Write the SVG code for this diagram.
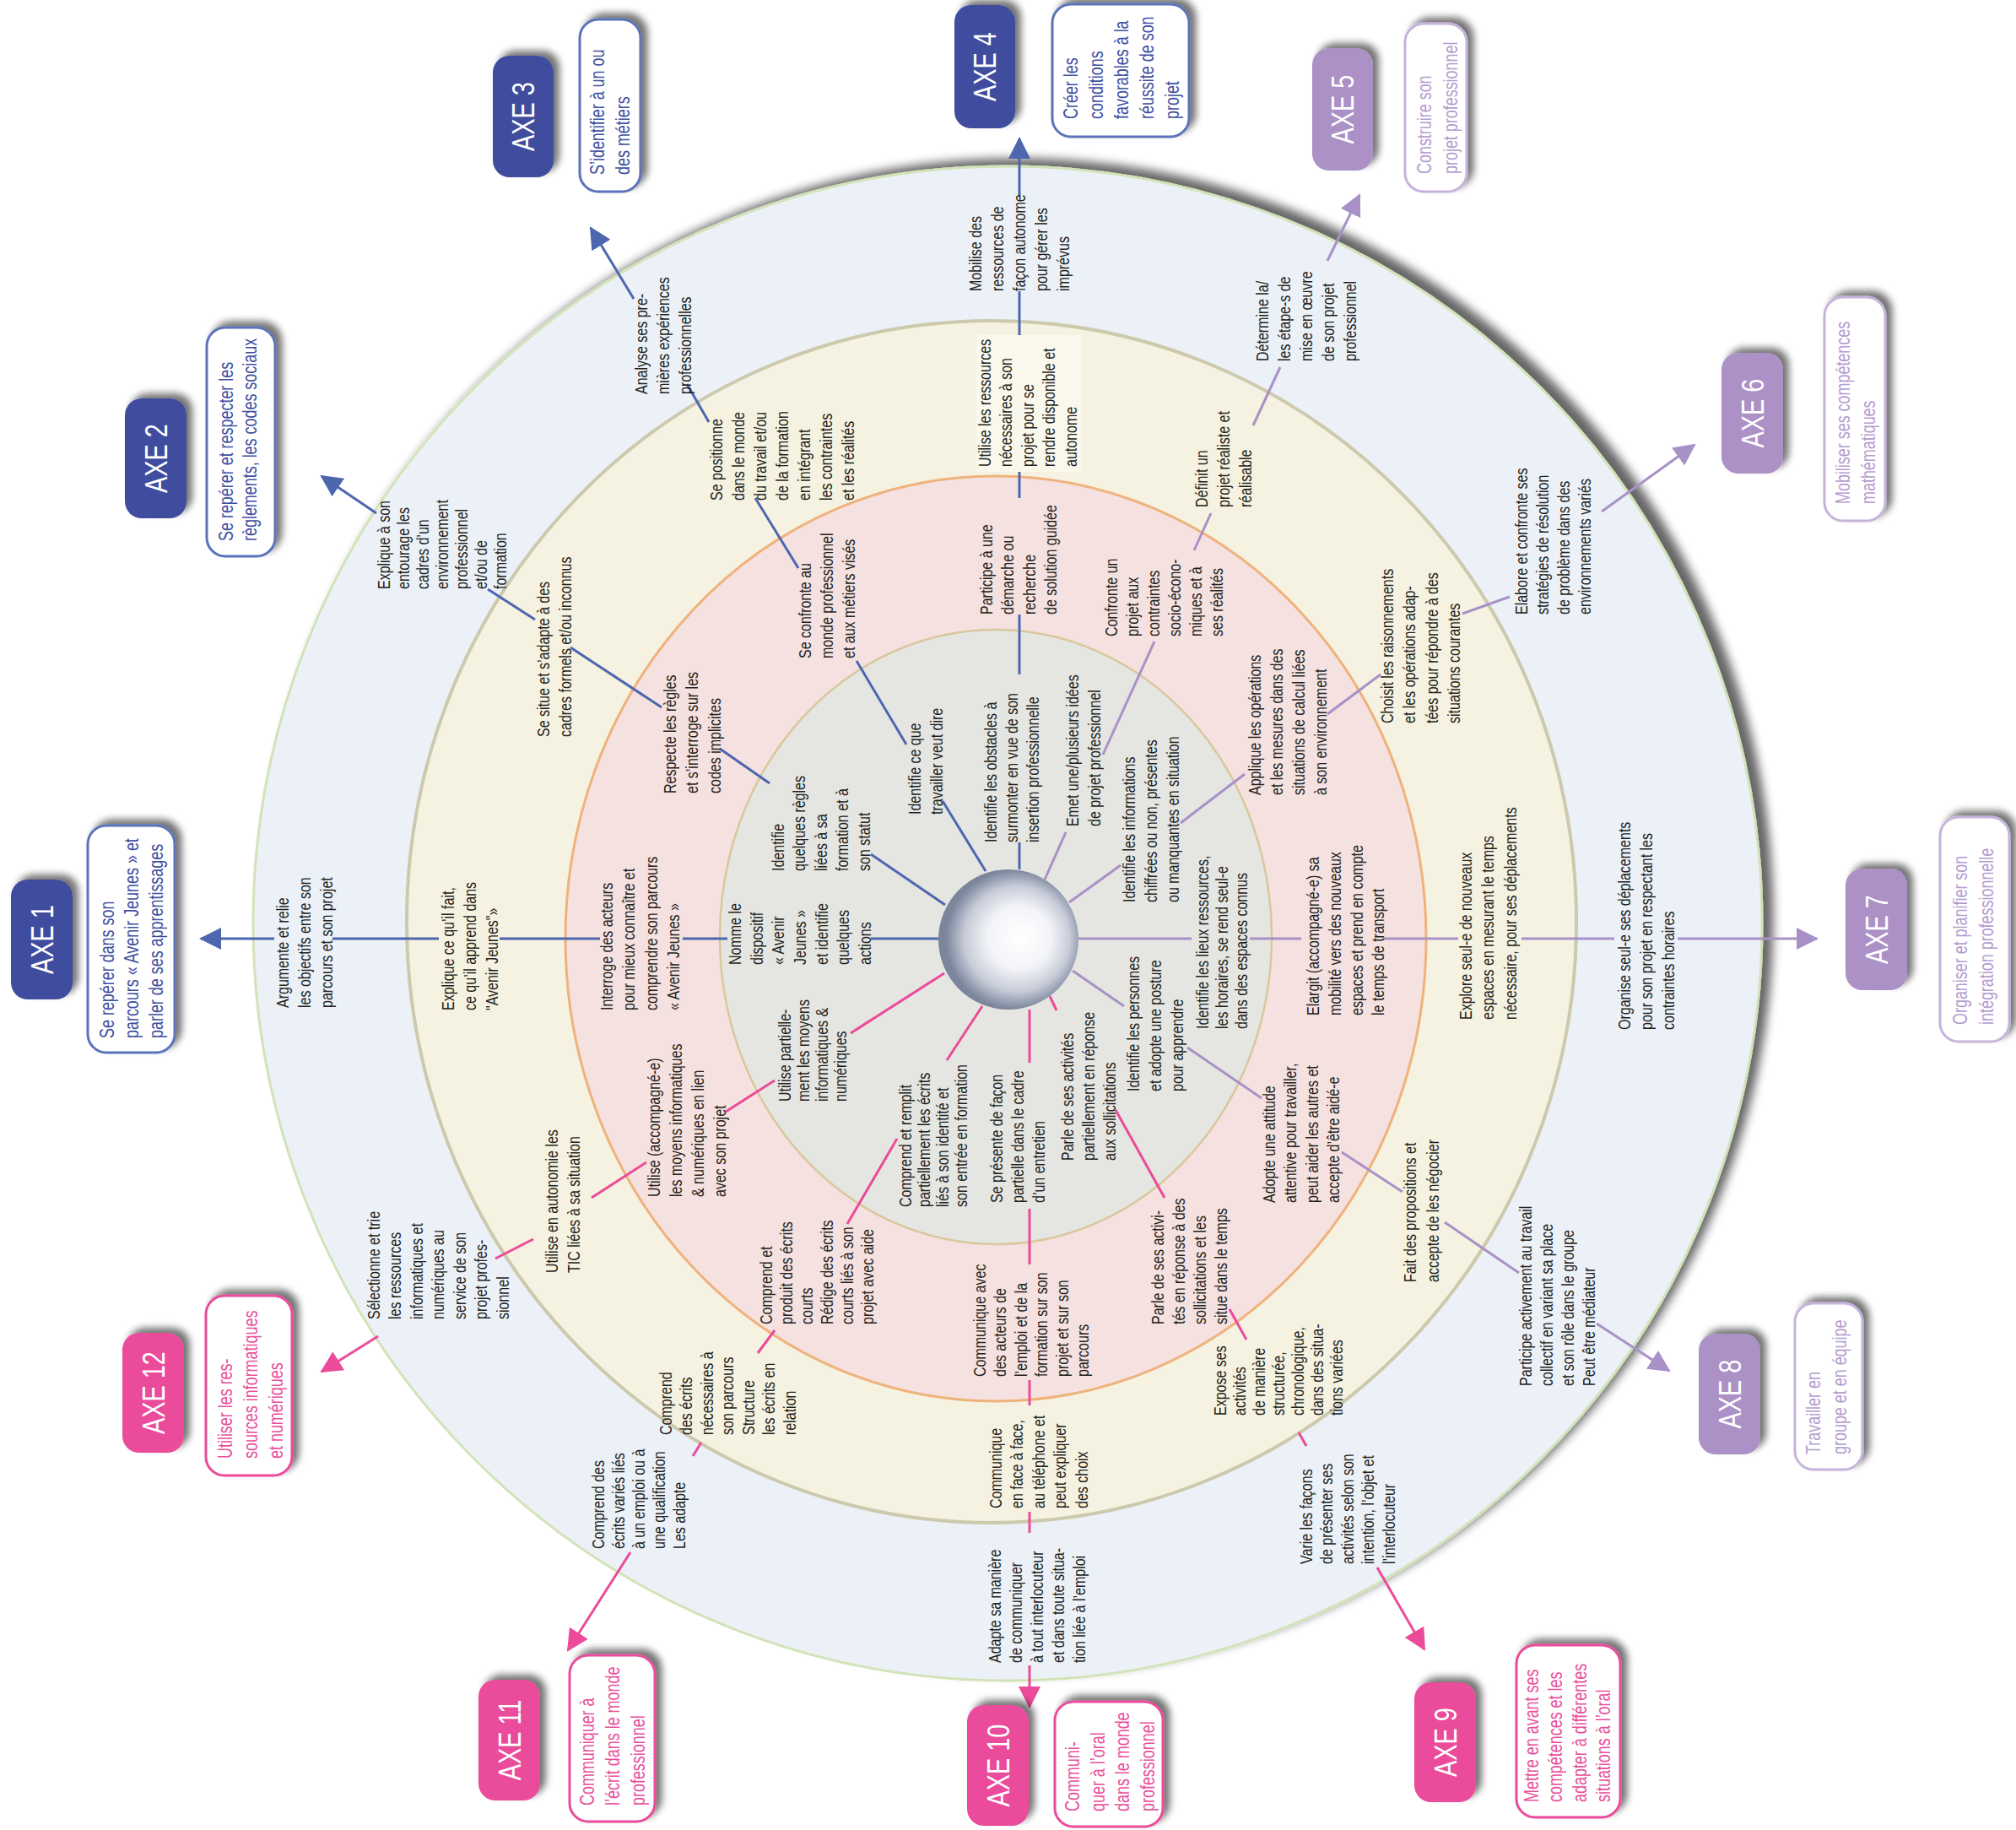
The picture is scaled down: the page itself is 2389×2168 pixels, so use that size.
<svg xmlns="http://www.w3.org/2000/svg" width="2389" height="2168" viewBox="0 0 2389 2168">
<defs>
<style>
.t{font-family:"Liberation Sans",Arial,sans-serif;font-size:20px;fill:#231f20}
.bt{font-family:"Liberation Sans",Arial,sans-serif;font-size:23px}
.ax{font-family:"Liberation Sans",Arial,sans-serif;font-size:37px;fill:#ffffff;text-anchor:middle}
.cb{stroke:#4d66ae;stroke-width:3;fill:none}
.cp{stroke:#a891c7;stroke-width:3;fill:none}
.ck{stroke:#ec4a9a;stroke-width:3;fill:none}
.bb{fill:#414e9e}.bp{fill:#ab91c5}.bk{fill:#ea4b9a}
.tb{fill:#ffffff;stroke:#5b73ba;stroke-width:3}
.tp{fill:#ffffff;stroke:#c6b3dc;stroke-width:3}
.tk{fill:#ffffff;stroke:#ea4b9a;stroke-width:3}
.xb{fill:#3f4f9f}.xp{fill:#b39ccf}.xk{fill:#e8509c}
</style>
<filter id="sh" x="-30%" y="-30%" width="160%" height="160%">
<feGaussianBlur in="SourceAlpha" stdDeviation="4"/>
<feOffset dx="7" dy="-6" result="o"/>
<feComponentTransfer><feFuncA type="linear" slope="0.55"/></feComponentTransfer>
<feMerge><feMergeNode/><feMergeNode in="SourceGraphic"/></feMerge>
</filter>
<filter id="shc" x="-10%" y="-10%" width="120%" height="120%">
<feGaussianBlur in="SourceAlpha" stdDeviation="6"/>
<feOffset dx="12" dy="-8"/>
<feComponentTransfer><feFuncA type="linear" slope="0.6"/></feComponentTransfer>
<feMerge><feMergeNode/><feMergeNode in="SourceGraphic"/></feMerge>
</filter>
<radialGradient id="sg" cx="0.55" cy="0.5" r="0.5" fx="0.6" fy="0.48">
<stop offset="0" stop-color="#ffffff"/>
<stop offset="0.45" stop-color="#f3f4f8"/>
<stop offset="0.75" stop-color="#c8ccd8"/>
<stop offset="0.9" stop-color="#98a1b4"/>
<stop offset="1" stop-color="#7b859b"/>
</radialGradient>
<marker id="mb" viewBox="0 0 26 26" markerWidth="26" markerHeight="26" refX="24" refY="13" orient="auto" markerUnits="userSpaceOnUse"><path d="M0,0 L26,13 L0,26 z" fill="#4d66ae"/></marker>
<marker id="mp" viewBox="0 0 26 26" markerWidth="26" markerHeight="26" refX="24" refY="13" orient="auto" markerUnits="userSpaceOnUse"><path d="M0,0 L26,13 L0,26 z" fill="#a891c7"/></marker>
<marker id="mk" viewBox="0 0 26 26" markerWidth="26" markerHeight="26" refX="24" refY="13" orient="auto" markerUnits="userSpaceOnUse"><path d="M0,0 L26,13 L0,26 z" fill="#ec4a9a"/></marker>
</defs>
<rect x="0" y="0" width="2389" height="2168" fill="#ffffff"/>

<g id="rings">
<ellipse cx="1194" cy="1094" rx="894" ry="897" fill="#ecf1f8" stroke="#d3e3b8" stroke-width="3" filter="url(#shc)"/>
<ellipse cx="1175" cy="1092" rx="693" ry="712" fill="#f5f2e1" stroke="#cdc9ad" stroke-width="4"/>
<ellipse cx="1180" cy="1112" rx="510" ry="548" fill="#f5e1df" stroke="#efb27c" stroke-width="3"/>
<ellipse cx="1180" cy="1110" rx="327" ry="364" fill="#e5e6e2" stroke="#d9c79d" stroke-width="2.5"/>
<rect x="1157" y="397" width="124" height="162" fill="#faf8ec"/>
</g>

<g id="connectors">
<!-- AXE 1 -->
<line class="cb" x1="1112" y1="1112" x2="1032" y2="1112"/>
<line class="cb" x1="862" y1="1112" x2="809" y2="1112"/>
<line class="cb" x1="711" y1="1112" x2="592" y2="1112"/>
<line class="cb" x1="520" y1="1112" x2="394" y2="1112"/>
<line class="cb" x1="325" y1="1112" x2="238" y2="1112" marker-end="url(#mb)"/>
<!-- AXE 2 -->
<line class="cb" x1="1120" y1="1072" x2="1032" y2="1012"/>
<line class="cb" x1="912" y1="928" x2="853" y2="887"/>
<line class="cb" x1="784" y1="838" x2="676" y2="767"/>
<line class="cb" x1="634" y1="734" x2="578" y2="698"/>
<line class="cb" x1="446" y1="608" x2="381" y2="564" marker-end="url(#mb)"/>
<!-- AXE 3 -->
<line class="cb" x1="1168" y1="1032" x2="1117" y2="949"/>
<line class="cb" x1="1074" y1="882" x2="1015" y2="783"/>
<line class="cb" x1="946" y1="673" x2="895" y2="590"/>
<line class="cb" x1="840" y1="500" x2="814" y2="455"/>
<line class="cb" x1="751" y1="354" x2="700" y2="270" marker-end="url(#mb)"/>
<!-- AXE 4 -->
<line class="cb" x1="1208" y1="1030" x2="1208" y2="998"/>
<line class="cb" x1="1208" y1="799" x2="1208" y2="728"/>
<line class="cb" x1="1208" y1="590" x2="1208" y2="559"/>
<line class="cb" x1="1208" y1="397" x2="1208" y2="345"/>
<line class="cb" x1="1208" y1="231" x2="1208" y2="164" marker-end="url(#mb)"/>
<!-- AXE 5 -->
<line class="cp" x1="1238" y1="1042" x2="1263" y2="986"/>
<line class="cp" x1="1307" y1="894" x2="1368" y2="760"/>
<line class="cp" x1="1415" y1="652" x2="1435" y2="608"/>
<line class="cp" x1="1485" y1="504" x2="1517" y2="435"/>
<line class="cp" x1="1573" y1="309" x2="1611" y2="231" marker-end="url(#mp)"/>
<!-- AXE 6 -->
<line class="cp" x1="1267" y1="1069" x2="1328" y2="1025"/>
<line class="cp" x1="1399" y1="975" x2="1475" y2="917"/>
<line class="cp" x1="1573" y1="846" x2="1636" y2="799"/>
<line class="cp" x1="1733" y1="727" x2="1789" y2="707"/>
<line class="cp" x1="1898" y1="606" x2="2008" y2="527" marker-end="url(#mp)"/>
<!-- AXE 7 -->
<line class="cp" x1="1278" y1="1112" x2="1412" y2="1112"/>
<line class="cp" x1="1481" y1="1112" x2="1542" y2="1112"/>
<line class="cp" x1="1640" y1="1112" x2="1728" y2="1112"/>
<line class="cp" x1="1803" y1="1112" x2="1913" y2="1112"/>
<line class="cp" x1="1988" y1="1112" x2="2153" y2="1112" marker-end="url(#mp)"/>
<!-- AXE 8 -->
<line class="cp" x1="1271" y1="1150" x2="1332" y2="1192"/>
<line class="cp" x1="1407" y1="1241" x2="1495" y2="1301"/>
<line class="cp" x1="1590" y1="1365" x2="1662" y2="1412"/>
<line class="cp" x1="1712" y1="1448" x2="1800" y2="1508"/>
<line class="cp" x1="1892" y1="1568" x2="1978" y2="1624" marker-end="url(#mp)"/>
<!-- AXE 9 -->
<line class="ck" x1="1244" y1="1180" x2="1252" y2="1197"/>
<line class="ck" x1="1322" y1="1315" x2="1380" y2="1419"/>
<line class="ck" x1="1457" y1="1551" x2="1477" y2="1587"/>
<line class="ck" x1="1539" y1="1697" x2="1548" y2="1713"/>
<line class="ck" x1="1632" y1="1857" x2="1688" y2="1954" marker-end="url(#mk)"/>
<!-- AXE 10 -->
<line class="ck" x1="1220" y1="1196" x2="1220" y2="1259"/>
<line class="ck" x1="1220" y1="1432" x2="1220" y2="1498"/>
<line class="ck" x1="1220" y1="1635" x2="1220" y2="1665"/>
<line class="ck" x1="1220" y1="1791" x2="1220" y2="1816"/>
<line class="ck" x1="1220" y1="1973" x2="1220" y2="2022" marker-end="url(#mk)"/>
<!-- AXE 11 -->
<line class="ck" x1="1164" y1="1192" x2="1122" y2="1256"/>
<line class="ck" x1="1063" y1="1349" x2="1004" y2="1450"/>
<line class="ck" x1="918" y1="1576" x2="898" y2="1603"/>
<line class="ck" x1="831" y1="1709" x2="821" y2="1725"/>
<line class="ck" x1="747" y1="1839" x2="673" y2="1955" marker-end="url(#mk)"/>
<!-- AXE 12 -->
<line class="ck" x1="1119" y1="1153" x2="1008" y2="1224"/>
<line class="ck" x1="918" y1="1280" x2="860" y2="1317"/>
<line class="ck" x1="766" y1="1377" x2="701" y2="1419"/>
<line class="ck" x1="632" y1="1468" x2="587" y2="1491"/>
<line class="ck" x1="448" y1="1583" x2="381" y2="1625" marker-end="url(#mk)"/>
</g>

<g id="center"><circle cx="1195" cy="1113" r="83" fill="url(#sg)"/></g>

<!-- Gray ring nodes -->
<g id="g1"><text class="t" transform="translate(878,1143) rotate(-90) scale(0.8,1)"><tspan x="0" y="0">Nomme le</tspan><tspan x="0" y="25.7">dispositif</tspan><tspan x="0" y="51.4">« Avenir</tspan><tspan x="0" y="77.1">Jeunes »</tspan><tspan x="0" y="102.8">et identifie</tspan><tspan x="0" y="128.5">quelques</tspan><tspan x="0" y="154.2">actions</tspan></text></g>
<g id="g2"><text class="t" transform="translate(929,1032) rotate(-90) scale(0.8,1)"><tspan x="0" y="0">Identifie</tspan><tspan x="0" y="25.5">quelques règles</tspan><tspan x="0" y="51">liées à sa</tspan><tspan x="0" y="76.5">formation et à</tspan><tspan x="0" y="102">son statut</tspan></text></g>
<g id="g3"><text class="t" transform="translate(1091,965) rotate(-90) scale(0.8,1)"><tspan x="0" y="0">Identifie ce que</tspan><tspan x="0" y="26">travailler veut dire</tspan></text></g>
<g id="g4"><text class="t" transform="translate(1181,998) rotate(-90) scale(0.8,1)"><tspan x="0" y="0">Identifie les obstacles à</tspan><tspan x="0" y="25">surmonter en vue de son</tspan><tspan x="0" y="50">insertion professionnelle</tspan></text></g>
<g id="g5"><text class="t" transform="translate(1278,979) rotate(-90) scale(0.8,1)"><tspan x="0" y="0">Emet une/plusieurs idées</tspan><tspan x="0" y="26">de projet professionnel</tspan></text></g>
<g id="g6"><text class="t" transform="translate(1345,1069) rotate(-90) scale(0.8,1)"><tspan x="0" y="0">Identifie les informations</tspan><tspan x="0" y="26">chiffrées ou non, présentes</tspan><tspan x="0" y="52">ou manquantes en situation</tspan></text></g>
<g id="g7"><text class="t" transform="translate(1432,1219) rotate(-90) scale(0.8,1)"><tspan x="0" y="0">Identifie les lieux ressources,</tspan><tspan x="0" y="23">les horaires, se rend seul-e</tspan><tspan x="0" y="46">dans des espaces connus</tspan></text></g>
<g id="g8"><text class="t" transform="translate(1350,1293) rotate(-90) scale(0.8,1)"><tspan x="0" y="0">Identifie les personnes</tspan><tspan x="0" y="26">et adopte une posture</tspan><tspan x="0" y="52">pour apprendre</tspan></text></g>
<g id="g9"><text class="t" transform="translate(1272,1375) rotate(-90) scale(0.8,1)"><tspan x="0" y="0">Parle de ses activités</tspan><tspan x="0" y="25">partiellement en réponse</tspan><tspan x="0" y="50">aux sollicitations</tspan></text></g>
<g id="g10"><text class="t" transform="translate(1188,1425) rotate(-90) scale(0.8,1)"><tspan x="0" y="0">Se présente de façon</tspan><tspan x="0" y="25">partielle dans le cadre</tspan><tspan x="0" y="50">d’un entretien</tspan></text></g>
<g id="g11"><text class="t" transform="translate(1080,1430) rotate(-90) scale(0.8,1)"><tspan x="0" y="0">Comprend et remplit</tspan><tspan x="0" y="22">partiellement les écrits</tspan><tspan x="0" y="44">liés à son identité et</tspan><tspan x="0" y="66">son entrée en formation</tspan></text></g>
<g id="g12"><text class="t" transform="translate(937,1305) rotate(-90) scale(0.8,1)"><tspan x="0" y="0">Utilise partielle-</tspan><tspan x="0" y="22">ment les moyens</tspan><tspan x="0" y="44">informatiques &amp;</tspan><tspan x="0" y="66">numériques</tspan></text></g>

<!-- Pink ring nodes -->
<g id="p1"><text class="t" transform="translate(726,1197) rotate(-90) scale(0.8,1)"><tspan x="0" y="0">Interroge des acteurs</tspan><tspan x="0" y="26.5">pour mieux connaître et</tspan><tspan x="0" y="53">comprendre son parcours</tspan><tspan x="0" y="79.5">« Avenir Jeunes »</tspan></text></g>
<g id="p2"><text class="t" transform="translate(801,940) rotate(-90) scale(0.8,1)"><tspan x="0" y="0">Respecte les règles</tspan><tspan x="0" y="26.5">et s’interroge sur les</tspan><tspan x="0" y="53">codes implicites</tspan></text></g>
<g id="p3"><text class="t" transform="translate(961,780) rotate(-90) scale(0.8,1)"><tspan x="0" y="0">Se confronte au</tspan><tspan x="0" y="26">monde professionnel</tspan><tspan x="0" y="52">et aux métiers visés</tspan></text></g>
<g id="p4"><text class="t" transform="translate(1176,728) rotate(-90) scale(0.8,1)"><tspan x="0" y="0">Participe à une</tspan><tspan x="0" y="25.5">démarche ou</tspan><tspan x="0" y="51">recherche</tspan><tspan x="0" y="76.5">de solution guidée</tspan></text></g>
<g id="p5"><text class="t" transform="translate(1324,754) rotate(-90) scale(0.8,1)"><tspan x="0" y="0">Confronte un</tspan><tspan x="0" y="25">projet aux</tspan><tspan x="0" y="50">contraintes</tspan><tspan x="0" y="75">socio-écono-</tspan><tspan x="0" y="100">miques et à</tspan><tspan x="0" y="125">ses réalités</tspan></text></g>
<g id="p6"><text class="t" transform="translate(1494,942) rotate(-90) scale(0.8,1)"><tspan x="0" y="0">Applique les opérations</tspan><tspan x="0" y="26">et les mesures dans des</tspan><tspan x="0" y="52">situations de calcul liées</tspan><tspan x="0" y="78">à son environnement</tspan></text></g>
<g id="p7"><text class="t" transform="translate(1563,1203) rotate(-90) scale(0.8,1)"><tspan x="0" y="0">Elargit (accompagné-e) sa</tspan><tspan x="0" y="25.8">mobilité vers des nouveaux</tspan><tspan x="0" y="51.6">espaces  et prend en compte</tspan><tspan x="0" y="77.4">le temps de transport</tspan></text></g>
<g id="p8"><text class="t" transform="translate(1511,1425) rotate(-90) scale(0.8,1)"><tspan x="0" y="0">Adopte une attitude</tspan><tspan x="0" y="25.5">attentive  pour  travailler,</tspan><tspan x="0" y="51">peut aider les autres et</tspan><tspan x="0" y="76.5">accepte d’être aidé-e</tspan></text></g>
<g id="p9"><text class="t" transform="translate(1379,1569) rotate(-90) scale(0.8,1)"><tspan x="0" y="0">Parle de ses activi-</tspan><tspan x="0" y="25">tés en réponse à des</tspan><tspan x="0" y="50">sollicitations et les</tspan><tspan x="0" y="75">situe dans le temps</tspan></text></g>
<g id="p10"><text class="t" transform="translate(1168,1631) rotate(-90) scale(0.8,1)"><tspan x="0" y="0">Communique avec</tspan><tspan x="0" y="24.5">des acteurs de</tspan><tspan x="0" y="49">l’emploi et de la</tspan><tspan x="0" y="73.5">formation sur son</tspan><tspan x="0" y="98">projet et sur son</tspan><tspan x="0" y="122.5">parcours</tspan></text></g>
<g id="p11"><text class="t" transform="translate(915,1569) rotate(-90) scale(0.8,1)"><tspan x="0" y="0">Comprend et</tspan><tspan x="0" y="24">produit des écrits</tspan><tspan x="0" y="48">courts</tspan><tspan x="0" y="72">Rédige des écrits</tspan><tspan x="0" y="96">courts liés à son</tspan><tspan x="0" y="120">projet avec aide</tspan></text></g>
<g id="p12"><text class="t" transform="translate(782,1418) rotate(-90) scale(0.8,1)"><tspan x="0" y="0">Utilise (accompagné-e)</tspan><tspan x="0" y="26">les moyens informatiques</tspan><tspan x="0" y="52">&amp; numériques en lien</tspan><tspan x="0" y="78">avec son projet</tspan></text></g>

<!-- Cream ring nodes -->
<g id="c1"><text class="t" transform="translate(538,1197) rotate(-90) scale(0.8,1)"><tspan x="0" y="0">Explique ce qu’il fait,</tspan><tspan x="0" y="26">ce qu’il apprend dans</tspan><tspan x="0" y="52">"Avenir Jeunes"»</tspan></text></g>
<g id="c2"><text class="t" transform="translate(651,873) rotate(-90) scale(0.8,1)"><tspan x="0" y="0">Se situe et s’adapte à des</tspan><tspan x="0" y="26">cadres formels et/ou inconnus</tspan></text></g>
<g id="c3"><text class="t" transform="translate(856,593) rotate(-90) scale(0.8,1)"><tspan x="0" y="0">Se positionne</tspan><tspan x="0" y="26">dans le monde</tspan><tspan x="0" y="52">du travail et/ou</tspan><tspan x="0" y="78">de la formation</tspan><tspan x="0" y="104">en intégrant</tspan><tspan x="0" y="130">les contraintes</tspan><tspan x="0" y="156">et les réalités</tspan></text></g>
<g id="c4"><text class="t" transform="translate(1174,553) rotate(-90) scale(0.8,1)"><tspan x="0" y="0">Utilise les ressources</tspan><tspan x="0" y="25.5">nécessaires à son</tspan><tspan x="0" y="51">projet pour se</tspan><tspan x="0" y="76.5">rendre disponible et</tspan><tspan x="0" y="102">autonome</tspan></text></g>
<g id="c5"><text class="t" transform="translate(1431,601) rotate(-90) scale(0.8,1)"><tspan x="0" y="0">Définit un</tspan><tspan x="0" y="26">projet réaliste et</tspan><tspan x="0" y="52">réalisable</tspan></text></g>
<g id="c6"><text class="t" transform="translate(1651,857) rotate(-90) scale(0.8,1)"><tspan x="0" y="0">Choisit les raisonnements</tspan><tspan x="0" y="26.5">et les opérations adap-</tspan><tspan x="0" y="53">tées pour répondre à des</tspan><tspan x="0" y="79.5">situations courantes</tspan></text></g>
<g id="c7"><text class="t" transform="translate(1744,1208) rotate(-90) scale(0.8,1)"><tspan x="0" y="0">Explore seul-e de nouveaux</tspan><tspan x="0" y="26.5">espaces en mesurant le temps</tspan><tspan x="0" y="53">nécessaire, pour ses déplacements</tspan></text></g>
<g id="c8"><text class="t" transform="translate(1678,1519) rotate(-90) scale(0.8,1)"><tspan x="0" y="0">Fait des propositions et</tspan><tspan x="0" y="27">accepte de les négocier</tspan></text></g>
<g id="c9"><text class="t" transform="translate(1453,1677) rotate(-90) scale(0.8,1)"><tspan x="0" y="0">Expose ses</tspan><tspan x="0" y="23">activités</tspan><tspan x="0" y="46">de manière</tspan><tspan x="0" y="69">structurée,</tspan><tspan x="0" y="92">chronologique,</tspan><tspan x="0" y="115">dans des situa-</tspan><tspan x="0" y="138">tions variées</tspan></text></g>
<g id="c10"><text class="t" transform="translate(1187,1787) rotate(-90) scale(0.8,1)"><tspan x="0" y="0">Communique</tspan><tspan x="0" y="25.5">en face  à face,</tspan><tspan x="0" y="51">au téléphone et</tspan><tspan x="0" y="76.5">peut expliquer</tspan><tspan x="0" y="102">des choix</tspan></text></g>
<g id="c11"><text class="t" transform="translate(796,1700) rotate(-90) scale(0.8,1)"><tspan x="0" y="0">Comprend</tspan><tspan x="0" y="24.5">des écrits</tspan><tspan x="0" y="49">nécessaires à</tspan><tspan x="0" y="73.5">son parcours</tspan><tspan x="0" y="98">Structure</tspan><tspan x="0" y="122.5">les écrits en</tspan><tspan x="0" y="147">relation</tspan></text></g>
<g id="c12"><text class="t" transform="translate(661,1508) rotate(-90) scale(0.8,1)"><tspan x="0" y="0">Utilise en autonomie les</tspan><tspan x="0" y="26">TIC liées à sa situation</tspan></text></g>

<!-- Blue ring nodes -->
<g id="b1"><text class="t" transform="translate(342,1194) rotate(-90) scale(0.8,1)"><tspan x="0" y="0">Argumente et relie</tspan><tspan x="0" y="26">les objectifs entre son</tspan><tspan x="0" y="52">parcours et son projet</tspan></text></g>
<g id="b2"><text class="t" transform="translate(462,698) rotate(-90) scale(0.8,1)"><tspan x="0" y="0">Explique à son</tspan><tspan x="0" y="23">entourage les</tspan><tspan x="0" y="46">cadres d’un</tspan><tspan x="0" y="69">environnement</tspan><tspan x="0" y="92">professionnel</tspan><tspan x="0" y="115">et/ou de</tspan><tspan x="0" y="138">formation</tspan></text></g>
<g id="b3"><text class="t" transform="translate(767,467) rotate(-90) scale(0.8,1)"><tspan x="0" y="0">Analyse ses pre-</tspan><tspan x="0" y="26">mières expériences</tspan><tspan x="0" y="52">professionnelles</tspan></text></g>
<g id="b4"><text class="t" transform="translate(1163,345) rotate(-90) scale(0.8,1)"><tspan x="0" y="0">Mobilise des</tspan><tspan x="0" y="26">ressources de</tspan><tspan x="0" y="52">façon autonome</tspan><tspan x="0" y="78">pour gérer les</tspan><tspan x="0" y="104">imprévus</tspan></text></g>
<g id="b5"><text class="t" transform="translate(1503,428) rotate(-90) scale(0.8,1)"><tspan x="0" y="0">Détermine la/</tspan><tspan x="0" y="26">les étape-s de</tspan><tspan x="0" y="52">mise en œuvre</tspan><tspan x="0" y="78">de son projet</tspan><tspan x="0" y="104">professionnel</tspan></text></g>
<g id="b6"><text class="t" transform="translate(1810,728) rotate(-90) scale(0.8,1)"><tspan x="0" y="0">Elabore et confronte ses</tspan><tspan x="0" y="25">stratégies de résolution</tspan><tspan x="0" y="50">de problème dans des</tspan><tspan x="0" y="75">environnements  variés</tspan></text></g>
<g id="b7"><text class="t" transform="translate(1932,1220) rotate(-90) scale(0.8,1)"><tspan x="0" y="0">Organise seul-e ses déplacements</tspan><tspan x="0" y="26">pour son projet en respectant les</tspan><tspan x="0" y="52">contraintes horaires</tspan></text></g>
<g id="b8"><text class="t" transform="translate(1815,1642) rotate(-90) scale(0.8,1)"><tspan x="0" y="0">Participe activement au travail</tspan><tspan x="0" y="25">collectif  en variant sa place</tspan><tspan x="0" y="50">et son rôle dans le groupe</tspan><tspan x="0" y="75">Peut être médiateur</tspan></text></g>
<g id="b9"><text class="t" transform="translate(1555,1853) rotate(-90) scale(0.8,1)"><tspan x="0" y="0">Varie les façons</tspan><tspan x="0" y="24.5">de présenter ses</tspan><tspan x="0" y="49">activités selon son</tspan><tspan x="0" y="73.5">intention, l’objet et</tspan><tspan x="0" y="98">l’interlocuteur</tspan></text></g>
<g id="b10"><text class="t" transform="translate(1186,1970) rotate(-90) scale(0.8,1)"><tspan x="0" y="0">Adapte sa manière</tspan><tspan x="0" y="25">de communiquer</tspan><tspan x="0" y="50">à tout interlocuteur</tspan><tspan x="0" y="75">et dans toute situa-</tspan><tspan x="0" y="100">tion liée à l’emploi</tspan></text></g>
<g id="b11"><text class="t" transform="translate(716,1835) rotate(-90) scale(0.8,1)"><tspan x="0" y="0">Comprend des</tspan><tspan x="0" y="24">écrits variés liés</tspan><tspan x="0" y="48">à un emploi ou à</tspan><tspan x="0" y="72">une qualification</tspan><tspan x="0" y="96">Les adapte</tspan></text></g>
<g id="b12"><text class="t" transform="translate(450,1563) rotate(-90) scale(0.8,1)"><tspan x="0" y="0">Sélectionne et trie</tspan><tspan x="0" y="25.5">les ressources</tspan><tspan x="0" y="51">informatiques et</tspan><tspan x="0" y="76.5">numériques au</tspan><tspan x="0" y="102">service de son</tspan><tspan x="0" y="127.5">projet profes-</tspan><tspan x="0" y="153">sionnel</tspan></text></g>

<!-- Axes -->
<g id="axe1">
<rect class="bb" x="13" y="1042" width="73" height="142" rx="20" filter="url(#sh)"/>
<text class="ax" transform="translate(62.5,1113) rotate(-90) scale(0.78,1)">AXE 1</text>
<rect class="tb" x="104" y="978" width="103" height="269" rx="22" filter="url(#sh)"/>
<text class="bt xb" transform="translate(135,1230) rotate(-90) scale(0.78,1)"><tspan x="0" y="0">Se repérer dans son</tspan><tspan x="0" y="29">parcours « Avenir Jeunes » et</tspan><tspan x="0" y="58">parler de ses apprentissages</tspan></text>
</g>
<g id="axe2">
<rect class="bb" x="148" y="472" width="73" height="142" rx="20" filter="url(#sh)"/>
<text class="ax" transform="translate(197.5,543) rotate(-90) scale(0.78,1)">AXE 2</text>
<rect class="tb" x="245" y="388" width="81" height="271" rx="22" filter="url(#sh)"/>
<text class="bt xb" transform="translate(276,641) rotate(-90) scale(0.78,1)"><tspan x="0" y="0">Se repérer et respecter les</tspan><tspan x="0" y="28">règlements, les codes sociaux</tspan></text>
</g>
<g id="axe3">
<rect class="bb" x="584" y="66" width="72" height="144" rx="20" filter="url(#sh)"/>
<text class="ax" transform="translate(633,138) rotate(-90) scale(0.78,1)">AXE 3</text>
<rect class="tb" x="687" y="23" width="72" height="204" rx="22" filter="url(#sh)"/>
<text class="bt xb" transform="translate(716,207) rotate(-90) scale(0.78,1)"><tspan x="0" y="0">S’identifier à un ou</tspan><tspan x="0" y="30">des métiers</tspan></text>
</g>
<g id="axe4">
<rect class="bb" x="1131" y="6" width="72" height="146" rx="20" filter="url(#sh)"/>
<text class="ax" transform="translate(1180,79) rotate(-90) scale(0.78,1)">AXE 4</text>
<rect class="tb" x="1247" y="5" width="162" height="157" rx="22" filter="url(#sh)"/>
<text class="bt xb" transform="translate(1277,141) rotate(-90) scale(0.78,1)"><tspan x="0" y="0">Créer les</tspan><tspan x="0" y="30">conditions</tspan><tspan x="0" y="60">favorables à la</tspan><tspan x="0" y="90">réussite de son</tspan><tspan x="0" y="120">projet</tspan></text>
</g>
<g id="axe5">
<rect class="bp" x="1555" y="57" width="72" height="145" rx="20" filter="url(#sh)"/>
<text class="ax" transform="translate(1604,129.5) rotate(-90) scale(0.78,1)">AXE 5</text>
<rect class="tp" x="1665" y="28" width="73" height="199" rx="22" filter="url(#sh)"/>
<text class="bt xp" transform="translate(1696,206) rotate(-90) scale(0.78,1)"><tspan x="0" y="0">Construire son</tspan><tspan x="0" y="31">projet professionnel</tspan></text>
</g>
<g id="axe6">
<rect class="bp" x="2040" y="418" width="73" height="143" rx="20" filter="url(#sh)"/>
<text class="ax" transform="translate(2089.5,489.5) rotate(-90) scale(0.78,1)">AXE 6</text>
<rect class="tp" x="2162" y="352" width="72" height="265" rx="22" filter="url(#sh)"/>
<text class="bt xp" transform="translate(2192,597) rotate(-90) scale(0.78,1)"><tspan x="0" y="0">Mobiliser ses compétences</tspan><tspan x="0" y="30.5">mathématiques</tspan></text>
</g>
<g id="axe7">
<rect class="bp" x="2187" y="1029" width="73" height="144" rx="20" filter="url(#sh)"/>
<text class="ax" transform="translate(2236.5,1101) rotate(-90) scale(0.78,1)">AXE 7</text>
<rect class="tp" x="2299" y="968" width="82" height="266" rx="22" filter="url(#sh)"/>
<text class="bt xp" transform="translate(2331,1214) rotate(-90) scale(0.78,1)"><tspan x="0" y="0">Organiser et planifier son</tspan><tspan x="0" y="31">intégration professionnelle</tspan></text>
</g>
<g id="axe8">
<rect class="bp" x="2013" y="1580" width="73" height="143" rx="20" filter="url(#sh)"/>
<text class="ax" transform="translate(2062.5,1651.5) rotate(-90) scale(0.78,1)">AXE 8</text>
<rect class="tp" x="2127" y="1544" width="80" height="197" rx="22" filter="url(#sh)"/>
<text class="bt xp" transform="translate(2157,1723) rotate(-90) scale(0.78,1)"><tspan x="0" y="0">Travailler en</tspan><tspan x="0" y="31.5">groupe et en équipe</tspan></text>
</g>
<g id="axe9">
<rect class="bk" x="1676" y="1993" width="73" height="142" rx="20" filter="url(#sh)"/>
<text class="ax" transform="translate(1725.5,2064) rotate(-90) scale(0.78,1)">AXE 9</text>
<rect class="tk" x="1797" y="1949" width="123" height="204" rx="22" filter="url(#sh)"/>
<text class="bt xk" transform="translate(1823,2135) rotate(-90) scale(0.78,1)"><tspan x="0" y="0">Mettre en avant ses</tspan><tspan x="0" y="28.5">compétences et les</tspan><tspan x="0" y="57">adapter à différentes</tspan><tspan x="0" y="85.5">situations à l’oral</tspan></text>
</g>
<g id="axe10">
<rect class="bk" x="1146" y="2020" width="73" height="143" rx="20" filter="url(#sh)"/>
<text class="ax" transform="translate(1195.5,2091.5) rotate(-90) scale(0.78,1)">AXE 10</text>
<rect class="tk" x="1250" y="2016" width="128" height="148" rx="22" filter="url(#sh)"/>
<text class="bt xk" transform="translate(1279,2146) rotate(-90) scale(0.78,1)"><tspan x="0" y="0">Communi-</tspan><tspan x="0" y="29.7">quer à l’oral</tspan><tspan x="0" y="59.4">dans le monde</tspan><tspan x="0" y="89.1">professionnel</tspan></text>
</g>
<g id="axe11">
<rect class="bk" x="567" y="1990" width="73" height="143" rx="20" filter="url(#sh)"/>
<text class="ax" transform="translate(616.5,2061.5) rotate(-90) scale(0.78,1)">AXE 11</text>
<rect class="tk" x="675" y="1961" width="101" height="197" rx="22" filter="url(#sh)"/>
<text class="bt xk" transform="translate(704,2139) rotate(-90) scale(0.78,1)"><tspan x="0" y="0">Communiquer à</tspan><tspan x="0" y="30">l’écrit dans le monde</tspan><tspan x="0" y="60">professionnel</tspan></text>
</g>
<g id="axe12">
<rect class="bk" x="145" y="1579" width="73" height="142" rx="20" filter="url(#sh)"/>
<text class="ax" transform="translate(194.5,1650) rotate(-90) scale(0.78,1)">AXE 12</text>
<rect class="tk" x="244" y="1535" width="102" height="213" rx="22" filter="url(#sh)"/>
<text class="bt xk" transform="translate(275,1728) rotate(-90) scale(0.78,1)"><tspan x="0" y="0">Utiliser les res-</tspan><tspan x="0" y="30">sources informatiques</tspan><tspan x="0" y="60">et numériques</tspan></text>
</g>
</svg>
